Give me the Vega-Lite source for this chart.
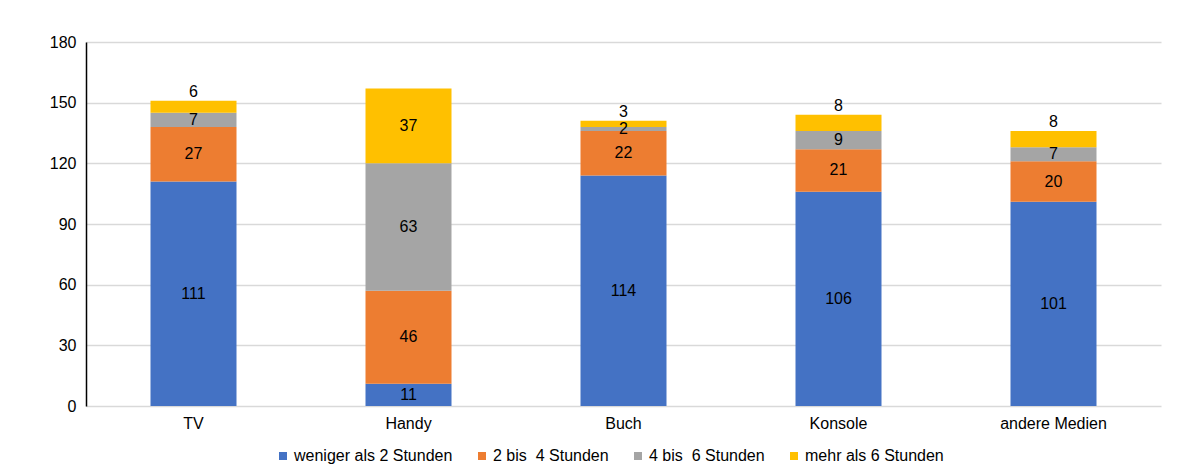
{
  "$schema": "https://vega.github.io/schema/vega-lite/v6.json",
  "width": 1075,
  "height": 364,
  "autosize": {"type": "none"},
  "padding": {"left": 86, "top": 42, "right": 25, "bottom": 68},
  "background": "white",
  "config": {
    "font": "Liberation Sans",
    "view": {"stroke": null},
    "axis": {"labelFont": "Liberation Sans", "labelFontSize": 16, "labelColor": "#000000"},
    "legend": {"labelFont": "Liberation Sans", "labelFontSize": 16, "labelColor": "#000000"}
  },
  "data": {
    "values": [
      {"medium": "TV", "series": "weniger als 2 Stunden", "order": 1, "value": 111},
      {"medium": "TV", "series": "2 bis\u00a0 4 Stunden", "order": 2, "value": 27},
      {"medium": "TV", "series": "4 bis\u00a0 6 Stunden", "order": 3, "value": 7},
      {"medium": "TV", "series": "mehr als 6 Stunden", "order": 4, "value": 6},
      {"medium": "Handy", "series": "weniger als 2 Stunden", "order": 1, "value": 11},
      {"medium": "Handy", "series": "2 bis\u00a0 4 Stunden", "order": 2, "value": 46},
      {"medium": "Handy", "series": "4 bis\u00a0 6 Stunden", "order": 3, "value": 63},
      {"medium": "Handy", "series": "mehr als 6 Stunden", "order": 4, "value": 37},
      {"medium": "Buch", "series": "weniger als 2 Stunden", "order": 1, "value": 114},
      {"medium": "Buch", "series": "2 bis\u00a0 4 Stunden", "order": 2, "value": 22},
      {"medium": "Buch", "series": "4 bis\u00a0 6 Stunden", "order": 3, "value": 2},
      {"medium": "Buch", "series": "mehr als 6 Stunden", "order": 4, "value": 3},
      {"medium": "Konsole", "series": "weniger als 2 Stunden", "order": 1, "value": 106},
      {"medium": "Konsole", "series": "2 bis\u00a0 4 Stunden", "order": 2, "value": 21},
      {"medium": "Konsole", "series": "4 bis\u00a0 6 Stunden", "order": 3, "value": 9},
      {"medium": "Konsole", "series": "mehr als 6 Stunden", "order": 4, "value": 8},
      {"medium": "andere Medien", "series": "weniger als 2 Stunden", "order": 1, "value": 101},
      {"medium": "andere Medien", "series": "2 bis\u00a0 4 Stunden", "order": 2, "value": 20},
      {"medium": "andere Medien", "series": "4 bis\u00a0 6 Stunden", "order": 3, "value": 7},
      {"medium": "andere Medien", "series": "mehr als 6 Stunden", "order": 4, "value": 8}
    ]
  },
  "transform": [
    {"stack": "value", "groupby": ["medium"], "sort": [{"field": "order", "order": "ascending"}], "as": ["y0", "y1"]},
    {"calculate": "(datum.y0 + datum.y1) / 2", "as": "mid"}
  ],
  "encoding": {
    "x": {
      "field": "medium",
      "type": "nominal",
      "sort": ["TV", "Handy", "Buch", "Konsole", "andere Medien"],
      "scale": {"paddingInner": 0.6, "paddingOuter": 0.3},
      "axis": {"title": null, "labelAngle": 0, "ticks": false, "domain": false, "labelPadding": 9, "grid": false}
    }
  },
  "layer": [
    {
      "mark": {"type": "bar"},
      "encoding": {
        "y": {
          "field": "y0",
          "type": "quantitative",
          "scale": {"domain": [0, 180], "nice": false},
          "axis": {
            "title": null,
            "values": [0, 30, 60, 90, 120, 150, 180],
            "ticks": false,
            "domain": true,
            "domainColor": "#000000",
            "domainWidth": 1.5,
            "grid": true,
            "gridColor": "#d9d9d9",
            "gridWidth": 1.5,
            "labelPadding": 10
          }
        },
        "y2": {"field": "y1"},
        "color": {
          "field": "series",
          "type": "nominal",
          "scale": {
            "domain": ["weniger als 2 Stunden", "2 bis\u00a0 4 Stunden", "4 bis\u00a0 6 Stunden", "mehr als 6 Stunden"],
            "range": ["#4472C4", "#ED7D31", "#A5A5A5", "#FFC000"]
          },
          "legend": {
            "title": null,
            "orient": "none",
            "legendX": 189,
            "legendY": 406,
            "direction": "horizontal",
            "symbolType": "square",
            "symbolSize": 64,
            "symbolStrokeWidth": 0,
            "labelOffset": 3,
            "columnPadding": 21
          }
        }
      }
    },
    {
      "transform": [{"filter": "!(datum.series == 'mehr als 6 Stunden' && datum.value < 10)"}],
      "mark": {"type": "text", "fontSize": 16, "color": "#000000", "baseline": "middle"},
      "encoding": {
        "y": {"field": "mid", "type": "quantitative"},
        "text": {"field": "value", "type": "quantitative"}
      }
    },
    {
      "transform": [{"filter": "datum.series == 'mehr als 6 Stunden' && datum.value < 10"}],
      "mark": {"type": "text", "fontSize": 16, "color": "#000000", "baseline": "bottom", "dy": -1},
      "encoding": {
        "y": {"field": "y1", "type": "quantitative"},
        "text": {"field": "value", "type": "quantitative"}
      }
    }
  ]
}
